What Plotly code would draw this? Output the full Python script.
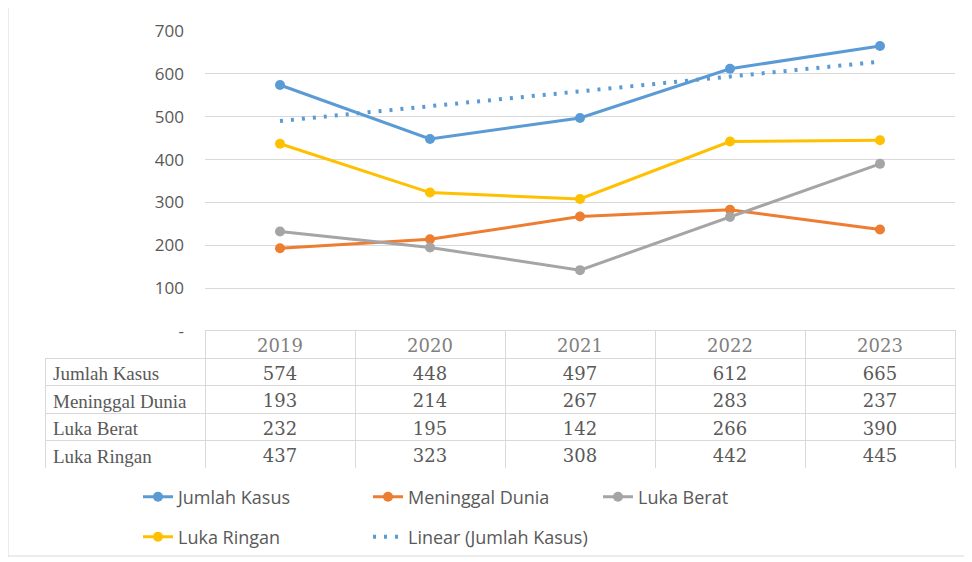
import numpy as np
import plotly.graph_objects as go

years = ["2019", "2020", "2021", "2022", "2023"]
jumlah_kasus = [574, 448, 497, 612, 665]
meninggal_dunia = [193, 214, 267, 283, 237]
luka_berat = [232, 195, 142, 266, 390]
luka_ringan = [437, 323, 308, 442, 445]

series_names = ["Jumlah Kasus", "Meninggal Dunia", "Luka Berat", "Luka Ringan"]
series_values = [jumlah_kasus, meninggal_dunia, luka_berat, luka_ringan]
series_colors = ["#5B9BD5", "#ED7D31", "#A5A5A5", "#FFC000"]
series_legend = ["legend", "legend", "legend", "legend2"]

# Linear trendline of Jumlah Kasus (least squares, as Excel does)
idx = np.arange(len(years))
slope, intercept = np.polyfit(idx, jumlah_kasus, 1)
trend = [intercept + slope * i for i in (idx[0], idx[-1])]

GRAY = "#595959"
W, H = 972, 562
# the page body has an 8px margin, so shift everything up/left by 8
OFF = 8
X0, X1 = 45, 955      # paper left/right (page pixels)
Y0, Y1 = 468, 31      # paper bottom/top (page pixels)
ML, MT = X0 - OFF, Y1 - OFF
MR, MB = W - (X1 - OFF), H - (Y0 - OFF)
PW, PH = X1 - X0, Y0 - Y1


def px(x):
    return (x - X0) / PW


def py(y):
    return (Y0 - y) / PH


fig = go.Figure()

for name, vals, color, lg in zip(series_names, series_values, series_colors, series_legend):
    fig.add_trace(go.Scatter(
        x=years,
        y=vals,
        name=name,
        mode="lines+markers",
        line=dict(color=color, width=3),
        marker=dict(color=color, size=10),
        legend=lg,
    ))

fig.add_trace(go.Scatter(
    x=[years[0], years[-1]],
    y=trend,
    name="Linear (Jumlah Kasus)",
    mode="lines",
    line=dict(color="#5B9BD5", width=4, dash="3px,8px"),
    legend="legend2",
))

# data table under the plot
header_vals = [""] + years
cell_vals = [series_names] + [[v[j] for v in series_values] for j in range(len(years))]
fig.add_trace(go.Table(
    domain=dict(x=[0, 1], y=[0, py(330)]),
    columnwidth=[160, 150, 150, 150, 150, 150],
    header=dict(
        values=header_vals,
        height=28,
        align="center",
        fill=dict(color=["rgba(0,0,0,0)"] + ["white"] * 5),
        line=dict(color=["rgba(0,0,0,0)"] + ["#d9d9d9"] * 5, width=1),
        font=dict(family="DejaVu Serif", size=18, color="#7f7f7f"),
    ),
    cells=dict(
        values=cell_vals,
        height=27.5,
        align=["left", "center", "center", "center", "center", "center"],
        fill=dict(color="white"),
        line=dict(color="#d9d9d9", width=1),
        font=dict(
            family=["Liberation Serif"] + ["DejaVu Serif"] * 5,
            size=[19, 18, 18, 18, 18, 18],
            color=GRAY,
        ),
    ),
))

legend_style = dict(
    orientation="h",
    x=px(138), xanchor="left",
    yanchor="middle",
    entrywidth=185, entrywidthmode="pixels",
    font=dict(size=18, color=GRAY),
    bgcolor="rgba(0,0,0,0)",
)

fig.update_layout(
    width=W,
    height=H,
    margin=dict(l=ML, r=MR, t=MT, b=MB),
    paper_bgcolor="white",
    plot_bgcolor="white",
    font=dict(family="Open Sans", size=17, color=GRAY),
    xaxis=dict(
        domain=[px(205), 1],
        type="category",
        range=[-0.5, 4.5],
        showticklabels=False,
        showgrid=False,
        zeroline=False,
        showline=False,
    ),
    yaxis=dict(
        domain=[py(331), 1],
        range=[0, 700],
        tickvals=[0, 100, 200, 300, 400, 500, 600, 700],
        ticktext=["-", "100", "200", "300", "400", "500", "600", "700"],
        gridcolor="#d9d9d9",
        zeroline=False,
        showline=False,
        ticklabelstandoff=20,
        tickfont=dict(size=17, color=GRAY),
    ),
    legend=dict(legend_style, y=py(497)),
    legend2=dict(legend_style, y=py(537)),
    shapes=[dict(
        type="rect", xref="paper", yref="paper",
        x0=px(8), x1=px(967),
        y0=py(556), y1=py(6),
        line=dict(color="#d9d9d9", width=1),
        layer="below",
    )],
)

fig.write_html("out.html")
